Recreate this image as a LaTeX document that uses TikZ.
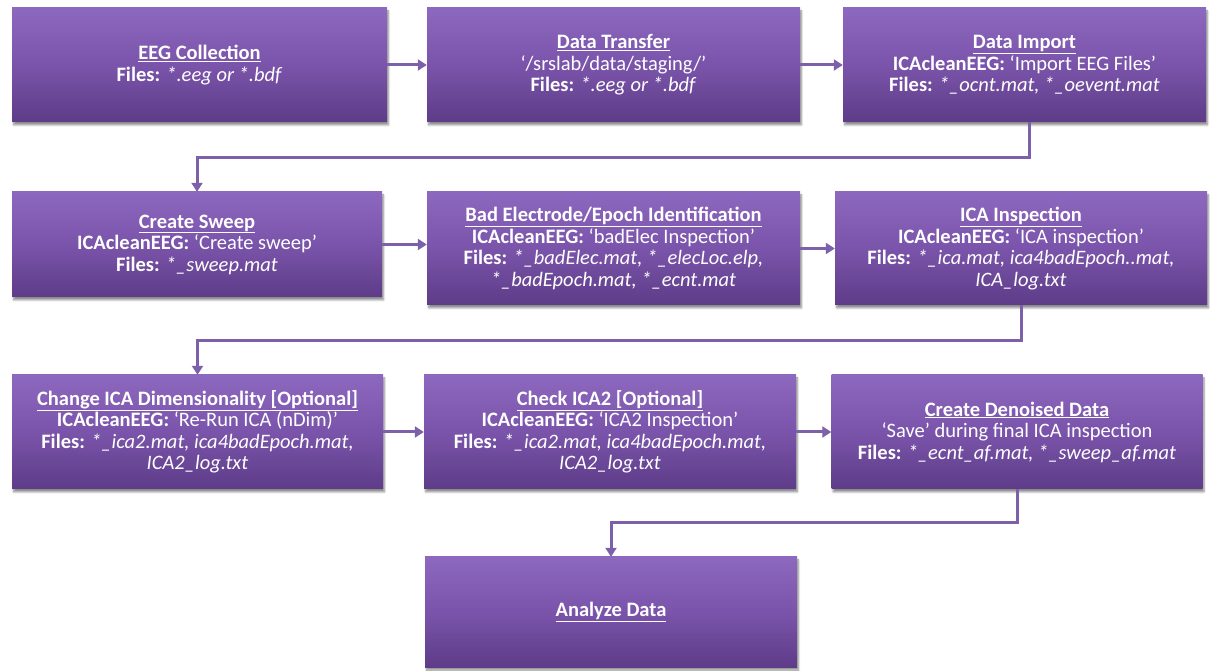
\documentclass[tikz,border=0pt]{standalone}
\usepackage{fontspec}
\setmainfont{Carlito}
\usetikzlibrary{arrows.meta,shadows.blur}
\definecolor{boxtop}{RGB}{140,104,190}
\definecolor{boxmid}{RGB}{122,84,170}
\definecolor{boxbot}{RGB}{94,60,136}
\definecolor{connc}{RGB}{125,96,170}
\newcommand{\bxhead}[1]{\textbf{\underline{#1}}}
\newcommand{\bxfiles}{\textbf{Files:}}
\newcommand{\bxica}{\textbf{ICAcleanEEG:}}
\tikzset{
  flowbox/.style={rectangle, inner sep=0pt, text=white, align=center,
    top color=boxtop, bottom color=boxbot, middle color=boxmid,
    font=\fontsize{20.5}{21.5}\selectfont,
    blur shadow={shadow xshift=1.5pt, shadow yshift=-3pt, shadow blur steps=6, shadow opacity=45}},
  conn/.style={draw=connc, line width=3pt, -{Triangle[length=9pt,width=11pt]}}
}
\begin{document}
\begin{tikzpicture}[x=1pt,y=1pt]
\useasboundingbox (0,0) rectangle (1211,670);
% row 1
\node[flowbox, minimum width=375pt, minimum height=114pt] (b1) at (199.5,605)
  {\bxhead{EEG Collection}\\ \bxfiles{} \textit{*.eeg or *.bdf}};
\node[flowbox, minimum width=373pt, minimum height=114pt] (b2) at (613.5,605)
  {\bxhead{Data Transfer}\\ ‘/srslab/data/staging/’\\ \bxfiles{} \textit{*.eeg or *.bdf}};
\node[flowbox, minimum width=363pt, minimum height=114pt] (b3) at (1024.5,605)
  {\bxhead{Data Import}\\ \bxica{} ‘Import EEG Files’\\ \bxfiles{} \textit{*\_ocnt.mat, *\_oevent.mat}};
% row 2
\node[flowbox, minimum width=370pt, minimum height=105pt] (b4) at (197,425.5)
  {\bxhead{Create Sweep}\\ \bxica{} ‘Create sweep’\\ \bxfiles{} \textit{*\_sweep.mat}};
\node[flowbox, minimum width=373pt, minimum height=113pt] (b5) at (613.5,421.5)
  {\bxhead{Bad Electrode/Epoch Identification}\\ \bxica{} ‘badElec Inspection’\\ \bxfiles{} \textit{*\_badElec.mat, *\_elecLoc.elp,}\\ \textit{*\_badEpoch.mat, *\_ecnt.mat}};
\node[flowbox, minimum width=372pt, minimum height=113pt] (b6) at (1021,421.5)
  {\bxhead{ICA Inspection}\\ \bxica{} ‘ICA inspection’\\ \bxfiles{} \textit{*\_ica.mat, ica4badEpoch..mat,}\\ \textit{ICA\_log.txt}};
% row 3
\node[flowbox, minimum width=371pt, minimum height=114pt] (b7) at (197.5,238)
  {\bxhead{Change ICA Dimensionality [Optional]}\\ \bxica{} ‘Re-Run ICA (nDim)’\\ \bxfiles{} \textit{*\_ica2.mat, ica4badEpoch.mat,}\\ \textit{ICA2\_log.txt}};
\node[flowbox, minimum width=372pt, minimum height=114pt] (b8) at (610,238)
  {\bxhead{Check ICA2 [Optional]}\\ \bxica{} ‘ICA2 Inspection’\\ \bxfiles{} \textit{*\_ica2.mat, ica4badEpoch.mat,}\\ \textit{ICA2\_log.txt}};
\node[flowbox, minimum width=371pt, minimum height=114pt] (b9) at (1017,238)
  {\bxhead{Create Denoised Data}\\ ‘Save’ during final ICA inspection\\ \bxfiles{} \textit{*\_ecnt\_af.mat, *\_sweep\_af.mat}};
% row 4
\node[flowbox, minimum width=372pt, minimum height=110pt] (b10) at (611,58)
  {\bxhead{Analyze Data}};
% connectors
\draw[conn] (b1.east) -- (b2.west);
\draw[conn] (b2.east) -- (b3.west);
\draw[conn] (b3.south) ++(5,0) coordinate (c3) (c3) -- ++(0,-35) -| (b4.north);
\draw[conn] (b4.east) -- (b4.east -| b5.west);
\draw[conn] (b5.east) -- (b6.west);
\draw[conn] (b6.south) -- ++(0,-35) -| (b7.north);
\draw[conn] (b7.east) -- (b8.west);
\draw[conn] (b8.east) -- (b9.west);
\draw[conn] (b9.south) -- ++(0,-33) -| (b10.north);
\end{tikzpicture}
\end{document}
